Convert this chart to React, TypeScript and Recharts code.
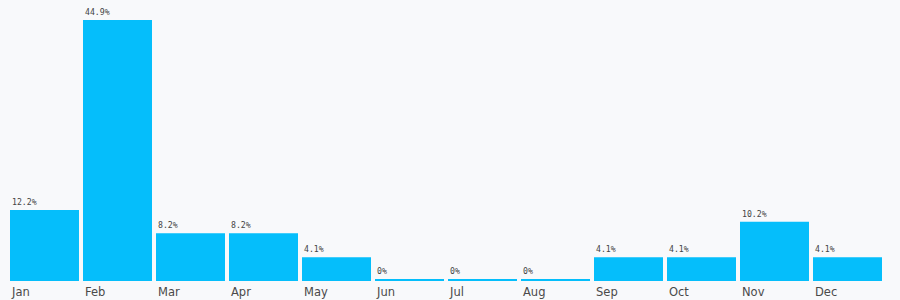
import React from "react";
import { BarChart, Bar, XAxis, YAxis, LabelList } from "recharts";

const months = ["Jan", "Feb", "Mar", "Apr", "May", "Jun", "Jul", "Aug", "Sep", "Oct", "Nov", "Dec"];
const shares = [12.2, 44.9, 8.2, 8.2, 4.1, 0, 0, 0, 4.1, 4.1, 10.2, 4.1];

const data = months.map((m, i) => ({ month: m, value: shares[i] }));

const MONO = "'DejaVu Sans Mono', 'Liberation Mono', monospace";
const SANS = "'DejaVu Sans', 'Noto Sans', sans-serif";
const TEXT = "#444";

const Tick = (props: any) => {
  const { x, payload } = props;
  return (
    <text x={x - 32.5} y={296} fontSize={11.5} fontFamily={SANS} fill="#4a4a4a" textAnchor="start">
      {payload.value}
    </text>
  );
};

const ValueLabel = (props: any) => {
  const { x, y, value } = props;
  const txt = value === 0 ? "0%" : `${Number(value).toFixed(1)}%`;
  return (
    <text x={Number(x) + 2} y={Number(y) - 5} fontSize={8.2} fontFamily={MONO} fill={TEXT} textAnchor="start">
      {txt}
    </text>
  );
};

export default function App() {
  return (
    <div style={{ position: "fixed", left: 0, top: 0, width: 900, height: 300, background: "#f8f9fb" }}>
      <BarChart
        width={900}
        height={300}
        data={data}
        margin={{ top: 20, right: 16, left: 8, bottom: 0 }}
        barCategoryGap={2}
      >
        <XAxis dataKey="month" axisLine={false} tickLine={false} height={19} tick={<Tick />} interval={0} />
        <YAxis hide domain={[0, 44.9]} />
        <Bar dataKey="value" fill="#05befb" minPointSize={2} isAnimationActive={false}>
          <LabelList dataKey="value" content={<ValueLabel />} />
        </Bar>
      </BarChart>
    </div>
  );
}
